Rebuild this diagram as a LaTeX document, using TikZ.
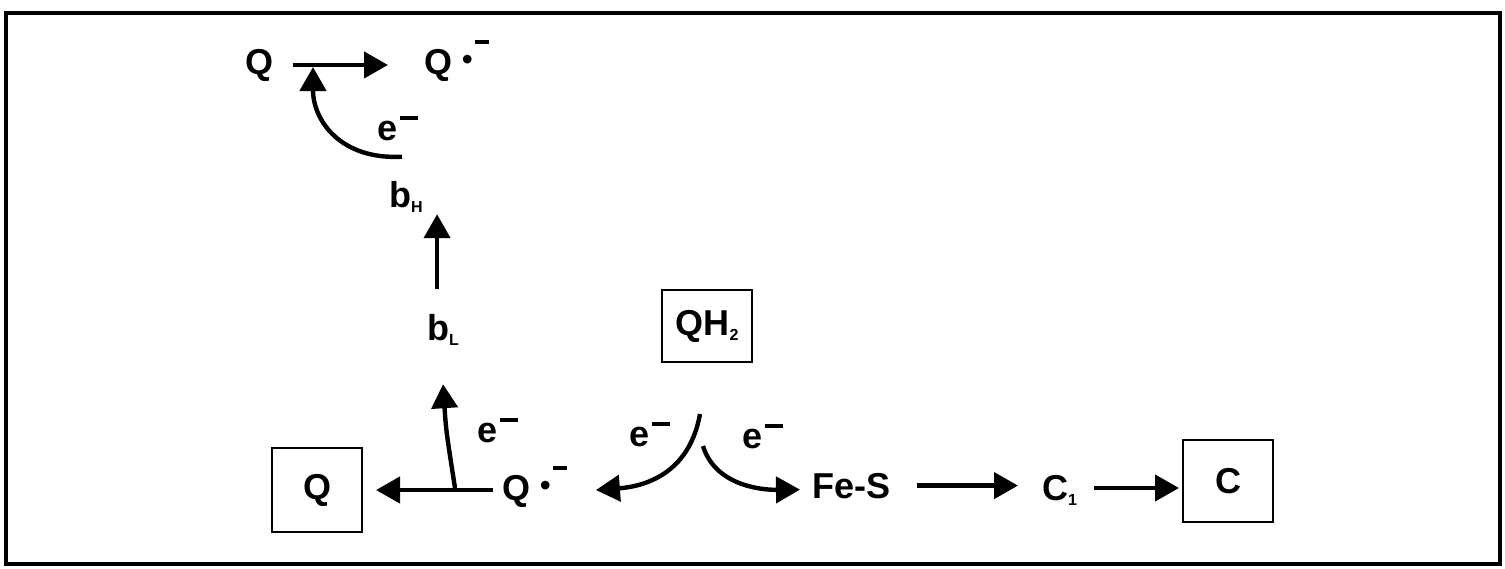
\documentclass[tikz,border=0pt]{standalone}
\usepackage{fontspec}
\setmainfont{Liberation Sans}
\usetikzlibrary{arrows.meta}

\newcommand{\elminus}{\hspace{1.5pt}\rule[10pt]{9pt}{2pt}}
\newcommand{\dotneg}{\hspace{5pt}\raisebox{2.2pt}{\fontsize{15}{15}\selectfont\textbullet}\hspace{1pt}\rule[15pt]{7pt}{2pt}}
\newcommand{\lowidx}[1]{\raisebox{-2.5pt}{\fontsize{8}{8}\selectfont #1}}

\tikzset{every picture/.style={line width=2.2pt}}
\tikzset{
  lbl/.style={inner sep=0pt, anchor=base west, font=\bfseries\fontsize{18}{21}\selectfont},
  boxed/.style={draw, line width=1pt, inner sep=0pt, minimum width=45pt, font=\bfseries\fontsize{18}{21}\selectfont},
  arr/.style={-{Triangle[length=12pt,width=13pt]}}
}

\begin{document}
\begin{tikzpicture}[x=0.5pt,y=0.5pt,yscale=-1,xscale=1]
\useasboundingbox (0,0) rectangle (1505,568);

%Shape: Rectangle (frame)
\draw [line width=1.8pt] (6,13) rectangle (1500,564) ;

% Text Node
\node [lbl] (qtop) at (243,74) {Q};
% Text Node
\node [lbl] (qrtop) at (422,74) {Q\dotneg};
% Text Node
\node [lbl] (etop) at (375,140) {e\elminus};
% Text Node
\node [lbl] (bh) at (387,207) {b\lowidx{H}};
% Text Node
\node [lbl] (bl) at (425,340) {b\lowidx{L}};
% Text Node
\node [boxed, minimum height=36pt] (qh) at (707,326) {QH\lowidx{2}};
% Text Node
\node [boxed, minimum height=42pt] (qbox) at (317,490) {Q};
% Text Node
\node [lbl] (qrbot) at (500,500) {Q\dotneg};
% Text Node
\node [lbl] (ebl) at (475,442) {e\elminus};
% Text Node
\node [lbl] (el) at (627,446) {e\elminus};
% Text Node
\node [lbl] (er) at (740,448) {e\elminus};
% Text Node
\node [lbl] (fes) at (810,498) {Fe-S};
% Text Node
\node [lbl] (c1) at (1040,500) {C\lowidx{1}};
% Text Node
\node [boxed, minimum height=41pt] (cbox) at (1228,481) {C};

\coordinate (hit) at (313,67);
\coordinate (br) at (455,488);
\coordinate (fork) at ([xshift=-3.5pt,yshift=25.5pt]qh.south);
\coordinate (fork2) at ([xshift=-2pt,yshift=41.5pt]qh.south);

%Straight Lines
\draw [arr] ([xshift=9pt]qtop.east) -- ([xshift=-17pt]qrtop.west |- qtop.east) ;
%Curve Lines
\draw [arr] ([xshift=-2pt,yshift=-11pt]bh.north) .. controls (340,160) and (313,120) .. (hit) ;
%Straight Lines
\draw [arr] ([xshift=-3pt,yshift=-11.5pt]bl.north) -- ([xshift=-3pt]bl.north |- bh.south) ;
%Straight Lines
\draw [arr] ([xshift=-3.5pt]qrbot.west |- qbox.east) -- ([xshift=6.5pt]qbox.east) ;
%Curve Lines
\draw [arr] (br) .. controls (446,430) .. ([yshift=18.5pt]bl.south) ;
%Curve Lines
\draw [arr] (fork) .. controls (690,470) and (650,486) .. ([xshift=13.5pt]qrbot.east |- qbox.east) ;
%Curve Lines
\draw [arr] (fork2) .. controls (715,485) and (760,490) .. ([xshift=-5pt,yshift=2pt]fes.west) ;
%Straight Lines
\draw [arr] ([xshift=12.5pt]fes.east) -- ([xshift=-11pt]c1.west |- fes.east) ;
%Straight Lines
\draw [arr] ([xshift=7.5pt,yshift=3.5pt]c1.east |- cbox.west) -- ([xshift=-1.5pt,yshift=3.5pt]cbox.west) ;

\end{tikzpicture}
\end{document}
